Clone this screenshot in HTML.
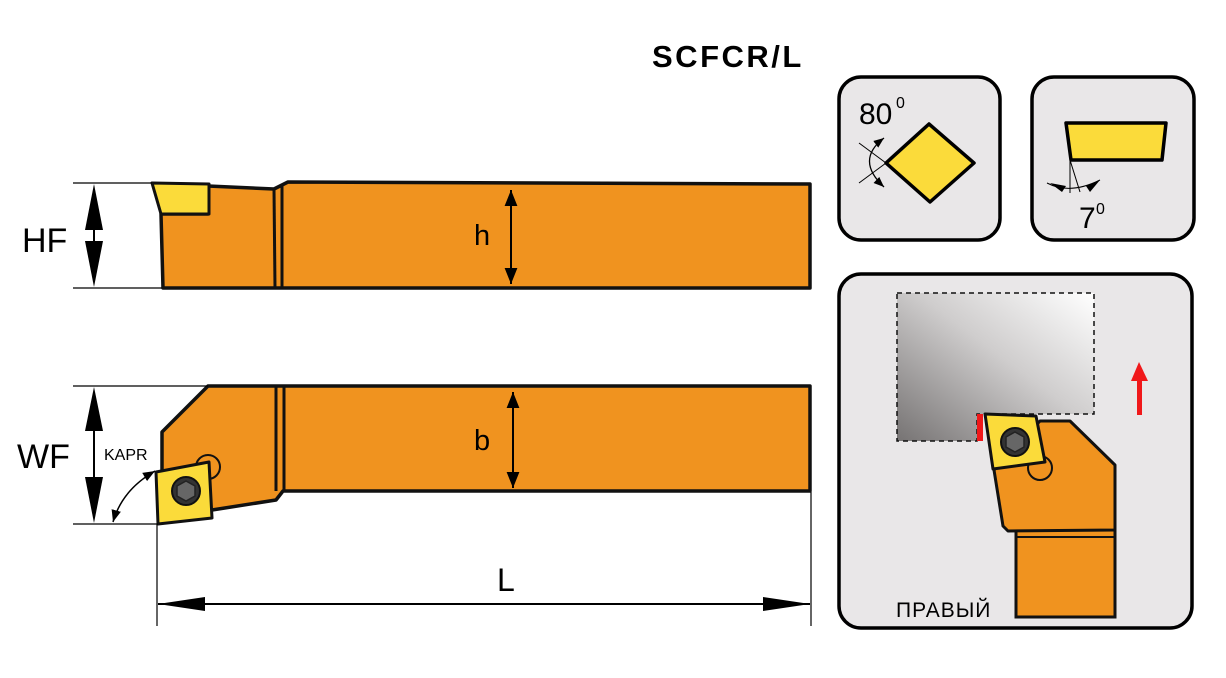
<!DOCTYPE html>
<html><head><meta charset="utf-8"><style>
html,body{margin:0;padding:0;background:#fff;}
svg{display:block;}
text{font-family:"Liberation Sans",sans-serif;}
</style></head><body>
<svg width="1226" height="678" viewBox="0 0 1226 678" xmlns="http://www.w3.org/2000/svg">
<defs>
<linearGradient id="g" x1="0" y1="1" x2="1" y2="0">
<stop offset="0" stop-color="#767373"/><stop offset="0.55" stop-color="#cfcdcd"/><stop offset="1" stop-color="#ffffff"/>
</linearGradient>
<marker id="ar" viewBox="0 0 10 10" refX="10" refY="5" markerWidth="8" markerHeight="8" orient="auto-start-reverse"><path d="M0,1 L10,5 L0,9z" fill="#000"/></marker>
</defs>

<text x="652" y="67" font-size="31" font-weight="bold" letter-spacing="2.5">SCFCR/L</text>

<!-- top bar -->
<polygon points="208,186 274,189 288,182 810,184 810,288 163,288 161,214 208,214" fill="#f0931f" stroke="#111" stroke-width="3.5" stroke-linejoin="round"/>
<line x1="274" y1="189" x2="275" y2="288" stroke="#111" stroke-width="3"/>
<line x1="282" y1="186" x2="282" y2="288" stroke="#111" stroke-width="3"/>
<polygon points="152,183 209,184 209,214 161,214" fill="#fbdb3a" stroke="#111" stroke-width="3" stroke-linejoin="round"/>
<!-- HF dims -->
<line x1="73" y1="183" x2="152" y2="183" stroke="#000" stroke-width="1.3"/>
<line x1="73" y1="288" x2="162" y2="288" stroke="#000" stroke-width="1.3"/>
<polygon points="94,184 85,230 103,230" fill="#000"/>
<polygon points="94,287 85,241 103,241" fill="#000"/>
<line x1="94" y1="200" x2="94" y2="270" stroke="#000" stroke-width="2"/>
<text x="22" y="252" font-size="34">HF</text>
<!-- h -->
<line x1="511" y1="190" x2="511" y2="284" stroke="#000" stroke-width="2" marker-start="url(#ar)" marker-end="url(#ar)"/>
<text x="474" y="245" font-size="29">h</text>

<!-- bottom bar -->
<polygon points="208,386 810,386 810,491 283,491 276,500 212,510 162,470 162,432" fill="#f0931f" stroke="#111" stroke-width="3.5" stroke-linejoin="round"/>
<circle cx="208" cy="467" r="12" fill="none" stroke="#111" stroke-width="2"/>
<line x1="276" y1="386" x2="276" y2="491" stroke="#111" stroke-width="3"/>
<line x1="284" y1="386" x2="284" y2="491" stroke="#111" stroke-width="3"/>
<polygon points="156,472 209,462 212,518 158,524" fill="#fbdb3a" stroke="#111" stroke-width="3" stroke-linejoin="round"/>
<circle cx="186" cy="491" r="14" fill="#333" stroke="#111" stroke-width="2"/>
<polygon points="186,481 195,486 195,496 186,501 177,496 177,486" fill="#666" stroke="#222" stroke-width="1.5"/>
<!-- WF dims -->
<line x1="73" y1="386" x2="208" y2="386" stroke="#000" stroke-width="1.3"/>
<line x1="73" y1="524" x2="158" y2="524" stroke="#000" stroke-width="1.3"/>
<polygon points="94,387 85,431 103,431" fill="#000"/>
<polygon points="94,523 85,477 103,477" fill="#000"/>
<line x1="94" y1="420" x2="94" y2="490" stroke="#000" stroke-width="2"/>
<text x="17" y="468" font-size="34">WF</text>
<text x="104" y="460" font-size="16">KAPR</text>
<path d="M113,522 Q122,490 155,471" fill="none" stroke="#000" stroke-width="1.5" marker-start="url(#ar)" marker-end="url(#ar)"/>
<!-- b -->
<line x1="513" y1="392" x2="513" y2="488" stroke="#000" stroke-width="2" marker-start="url(#ar)" marker-end="url(#ar)"/>
<text x="474" y="450" font-size="29">b</text>
<!-- L -->
<line x1="157" y1="524" x2="157" y2="626" stroke="#000" stroke-width="1.2"/>
<line x1="811" y1="492" x2="811" y2="626" stroke="#000" stroke-width="1.2"/>
<line x1="158" y1="604" x2="810" y2="604" stroke="#000" stroke-width="2"/>
<polygon points="158,604 205,597 205,611" fill="#000"/>
<polygon points="810,604 763,597 763,611" fill="#000"/>
<text x="497" y="591" font-size="32">L</text>

<!-- panel 1 -->
<rect x="839" y="77" width="161" height="163" rx="22" fill="#e9e7e8" stroke="#000" stroke-width="3.5"/>
<polygon points="929,124 974,163 930,202 886,163" fill="#fbdb3a" stroke="#000" stroke-width="3.5" stroke-linejoin="round"/>
<line x1="859" y1="143" x2="886" y2="163" stroke="#000" stroke-width="1"/>
<line x1="859" y1="183" x2="886" y2="163" stroke="#000" stroke-width="1"/>
<path d="M884,138 Q855,160 884,187" fill="none" stroke="#000" stroke-width="1.3" marker-start="url(#ar)" marker-end="url(#ar)"/>
<text x="859" y="124" font-size="30">80</text>
<text x="896" y="108" font-size="16">0</text>

<!-- panel 2 -->
<rect x="1032" y="77" width="162" height="163" rx="22" fill="#e9e7e8" stroke="#000" stroke-width="3.5"/>
<polygon points="1066,123 1166,123 1162,160 1071,160" fill="#fbdb3a" stroke="#000" stroke-width="3.5" stroke-linejoin="round"/>
<line x1="1070" y1="160" x2="1070" y2="193" stroke="#000" stroke-width="1"/>
<line x1="1070" y1="160" x2="1080" y2="192" stroke="#000" stroke-width="1"/>
<path d="M1047,183 Q1070,195 1100,180" fill="none" stroke="#000" stroke-width="1"/>
<polygon points="1050,183 1066,186 1062,192" fill="#000"/>
<polygon points="1100,180 1086,186 1090,192" fill="#000"/>
<text x="1079" y="228" font-size="30">7</text>
<text x="1096" y="214" font-size="16">0</text>

<!-- panel 3 -->
<rect x="839" y="274" width="353" height="354" rx="22" fill="#e9e7e8" stroke="#000" stroke-width="3.5"/>
<polygon points="897,293 1094,293 1094,414 977,414 977,441 897,441" fill="url(#g)" stroke="#111" stroke-width="1.5" stroke-dasharray="5,4"/>
<rect x="977" y="414" width="6" height="27" fill="#f0181a"/>
<rect x="1016" y="528" width="99" height="89" fill="#f0931f" stroke="#111" stroke-width="3"/>
<line x1="1016" y1="537" x2="1115" y2="537" stroke="#111" stroke-width="2"/>
<polygon points="1040,421 1070,421 1115,465 1115,530 1008,531 1003,526 994,470" fill="#f0931f" stroke="#111" stroke-width="3" stroke-linejoin="round"/>
<circle cx="1040" cy="468" r="12" fill="none" stroke="#111" stroke-width="2"/>
<polygon points="985,414 1036,416 1045,462 993,469" fill="#fbdb3a" stroke="#111" stroke-width="3" stroke-linejoin="round"/>
<circle cx="1015" cy="442" r="14" fill="#333" stroke="#111" stroke-width="2"/>
<polygon points="1015,432 1024,437 1024,447 1015,452 1006,447 1006,437" fill="#666" stroke="#222" stroke-width="1.5"/>
<rect x="1137" y="380" width="5" height="35" fill="#f0181a"/>
<polygon points="1131,381 1148,381 1139,362" fill="#f0181a"/>
<text x="896" y="617" font-size="21" letter-spacing="1">ПРАВЫЙ</text>
</svg>
</body></html>
